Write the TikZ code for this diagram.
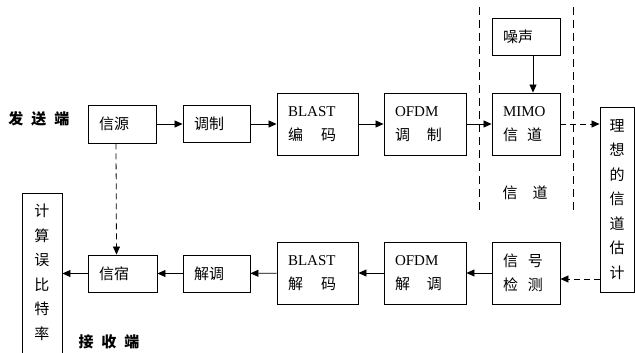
\documentclass[tikz,border=0pt]{standalone}
\usepackage{fontspec}
\setmainfont{Liberation Serif}
\newfontfamily\cjk{Noto Sans CJK SC}
\usetikzlibrary{arrows.meta}
\newcommand{\zh}[1]{{\cjk #1}}

\begin{document}
\begin{tikzpicture}[x=1pt,y=-1pt,
    blk/.style={draw,line width=0.9pt,inner xsep=11pt,inner ysep=0pt,align=left,
      font=\fontsize{15}{24}\selectfont},
    vblk/.style={draw,line width=0.9pt,inner sep=0pt,align=center,
      font=\cjk\fontsize{15}{24.5}\selectfont},
    lbl/.style={font=\cjk\bfseries\fontsize{15}{18}\selectfont},
    arr/.style={-{Triangle[length=8pt,width=7pt]},line width=0.8pt},
    darr/.style={arr,dash pattern=on 6pt off 4pt}]
  \useasboundingbox (0,0) rectangle (635,353);
  % transmitter
  \node[blk,text width=46pt,minimum height=38pt] (src) at (122,124) {\zh{信源}};
  \node[blk,text width=45pt,minimum height=37pt] (mod) at (216.5,124) {\zh{调制}};
  \node[blk,text width=59pt,minimum height=62pt] (blast) at (317.5,124) {BLAST\\\zh{编}\hspace{18pt}\zh{码}};
  \node[blk,text width=60pt,minimum height=62pt] (ofdm) at (425,124) {OFDM\\\zh{调}\hspace{17pt}\zh{制}};
  \node[blk,text width=46pt,minimum height=62pt] (mimo) at (526,124) {MIMO\\\zh{信}\hspace{9pt}\zh{道}};
  \node[blk,text width=46pt,minimum height=37pt] (noise) at (526,36.5) {\zh{噪声}};
  \node[vblk,text width=34pt,minimum height=185pt] (est) at (617,199.5) {理\\想\\的\\信\\道\\估\\计};
  % receiver
  \node[blk,text width=46pt,minimum height=62pt] (det) at (526,273) {\zh{信}\hspace{10pt}\zh{号}\\\zh{检}\hspace{10pt}\zh{测}};
  \node[blk,text width=60pt,minimum height=62pt] (iofdm) at (425,273) {OFDM\\\zh{解}\hspace{17pt}\zh{调}};
  \node[blk,text width=59pt,minimum height=62pt] (iblast) at (317.5,273) {BLAST\\\zh{解}\hspace{18pt}\zh{码}};
  \node[blk,text width=45pt,minimum height=37pt] (demod) at (216.5,273.5) {\zh{解调}};
  \node[blk,text width=47pt,minimum height=37pt] (sink) at (122.5,273.5) {\zh{信宿}};
  \node[vblk,text width=40pt,minimum height=170pt,anchor=north] (ber) at (42,193) {计\\算\\误\\比\\特\\率\\[-11pt]\mbox{}};
  % labels
  \node[lbl] (tx) at (39,119) {发\hspace{8pt}送\hspace{8pt}端};
  \node[lbl] (rx) at (109,342) {接\hspace{8pt}收\hspace{8pt}端};
  \node[font=\cjk\fontsize{15}{18}\selectfont] (chan) at (525,193) {信\hspace{15pt}道};
  \foreach \x in {479,573} {
    \draw[line width=0.8pt,dash pattern=on 8pt off 5pt] (\x,7) -- (\x,214);
  }
  % connectors
  \draw[arr] (src) -- (mod);
  \draw[arr] (mod) -- (blast);
  \draw[arr] (blast) -- (ofdm);
  \draw[arr] (ofdm) -- (mimo);
  \draw[arr] ([xshift=7pt]noise.south) -- ([xshift=7pt]mimo.north);
  \draw[darr] (mimo.east) -- (est.west |- mimo.east);
  \coordinate (fb) at ([yshift=-6pt]det.east);
  \draw[darr] (est.west |- fb) -- (fb);
  \draw[arr] (det) -- (iofdm);
  \draw[arr] (iofdm) -- (iblast);
  \draw[arr] (iblast) -- (demod);
  \draw[arr] (demod) -- (sink);
  \draw[arr] (sink.west) -- (ber.east |- sink.west);
  \draw[darr] ([xshift=-6pt]src.south) -- ([xshift=-6pt]sink.north);
\end{tikzpicture}
\end{document}
